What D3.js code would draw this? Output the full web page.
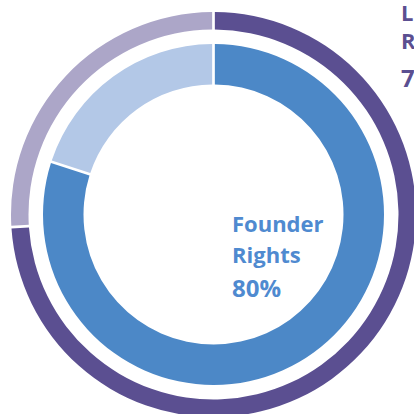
<!DOCTYPE html>
<html>
<head>
<meta charset="utf-8">
<script src="https://cdn.jsdelivr.net/npm/d3@7"></script>
<style>
html,body{margin:0;padding:0;background:#fff;overflow:hidden;}
svg{display:block;}
text{font-family:"Open Sans",sans-serif;font-weight:700;}
</style>
</head>
<body>
<svg id="chart" width="414" height="414"></svg>
<script>
const outerCategories = ["LP Rights", "Other"];
const outerValues = [74, 26];
const outerColors = ["#5b4f91", "#aca6c8"];

const innerCategories = ["Founder Rights", "Other"];
const innerValues = [80, 20];
const innerColors = ["#4c88c7", "#b3c8e7"];

const labelFounder = ["Founder", "Rights", "80%"];
const labelLP = ["LP", "Rights", "74%"];

const svg = d3.select("#chart");
const cx = 213.5, cy = 214.5;
const g = svg.append("g").attr("transform", `translate(${cx},${cy})`);

const pie = d3.pie().sort(null).value(d => d.v);

const outerArc = d3.arc().innerRadius(185).outerRadius(202.5).padAngle(0.027).padRadius(100);
const innerArc = d3.arc().innerRadius(130).outerRadius(170.5).padAngle(0.027).padRadius(100);

g.selectAll("path.outer")
  .data(pie(outerCategories.map((c, i) => ({c, v: outerValues[i]}))))
  .join("path").attr("class", "outer")
  .attr("d", outerArc)
  .attr("fill", (d, i) => outerColors[i]);

g.selectAll("path.inner")
  .data(pie(innerCategories.map((c, i) => ({c, v: innerValues[i]}))))
  .join("path").attr("class", "inner")
  .attr("d", innerArc)
  .attr("fill", (d, i) => innerColors[i]);

const founderBase = [232, 263, 297];
const sizes = [22, 22, 24];
svg.append("g").selectAll("text")
  .data(labelFounder)
  .join("text")
  .attr("x", 232)
  .attr("y", (d, i) => founderBase[i])
  .attr("font-size", (d, i) => sizes[i])
  .attr("fill", "#4f8ad0")
  .text(d => d);

const lpBase = [21, 49, 87];
svg.append("g").selectAll("text")
  .data(labelLP)
  .join("text")
  .attr("x", 401)
  .attr("y", (d, i) => lpBase[i])
  .attr("font-size", (d, i) => sizes[i])
  .attr("fill", "#5b4f91")
  .text(d => d);
</script>
</body>
</html>
